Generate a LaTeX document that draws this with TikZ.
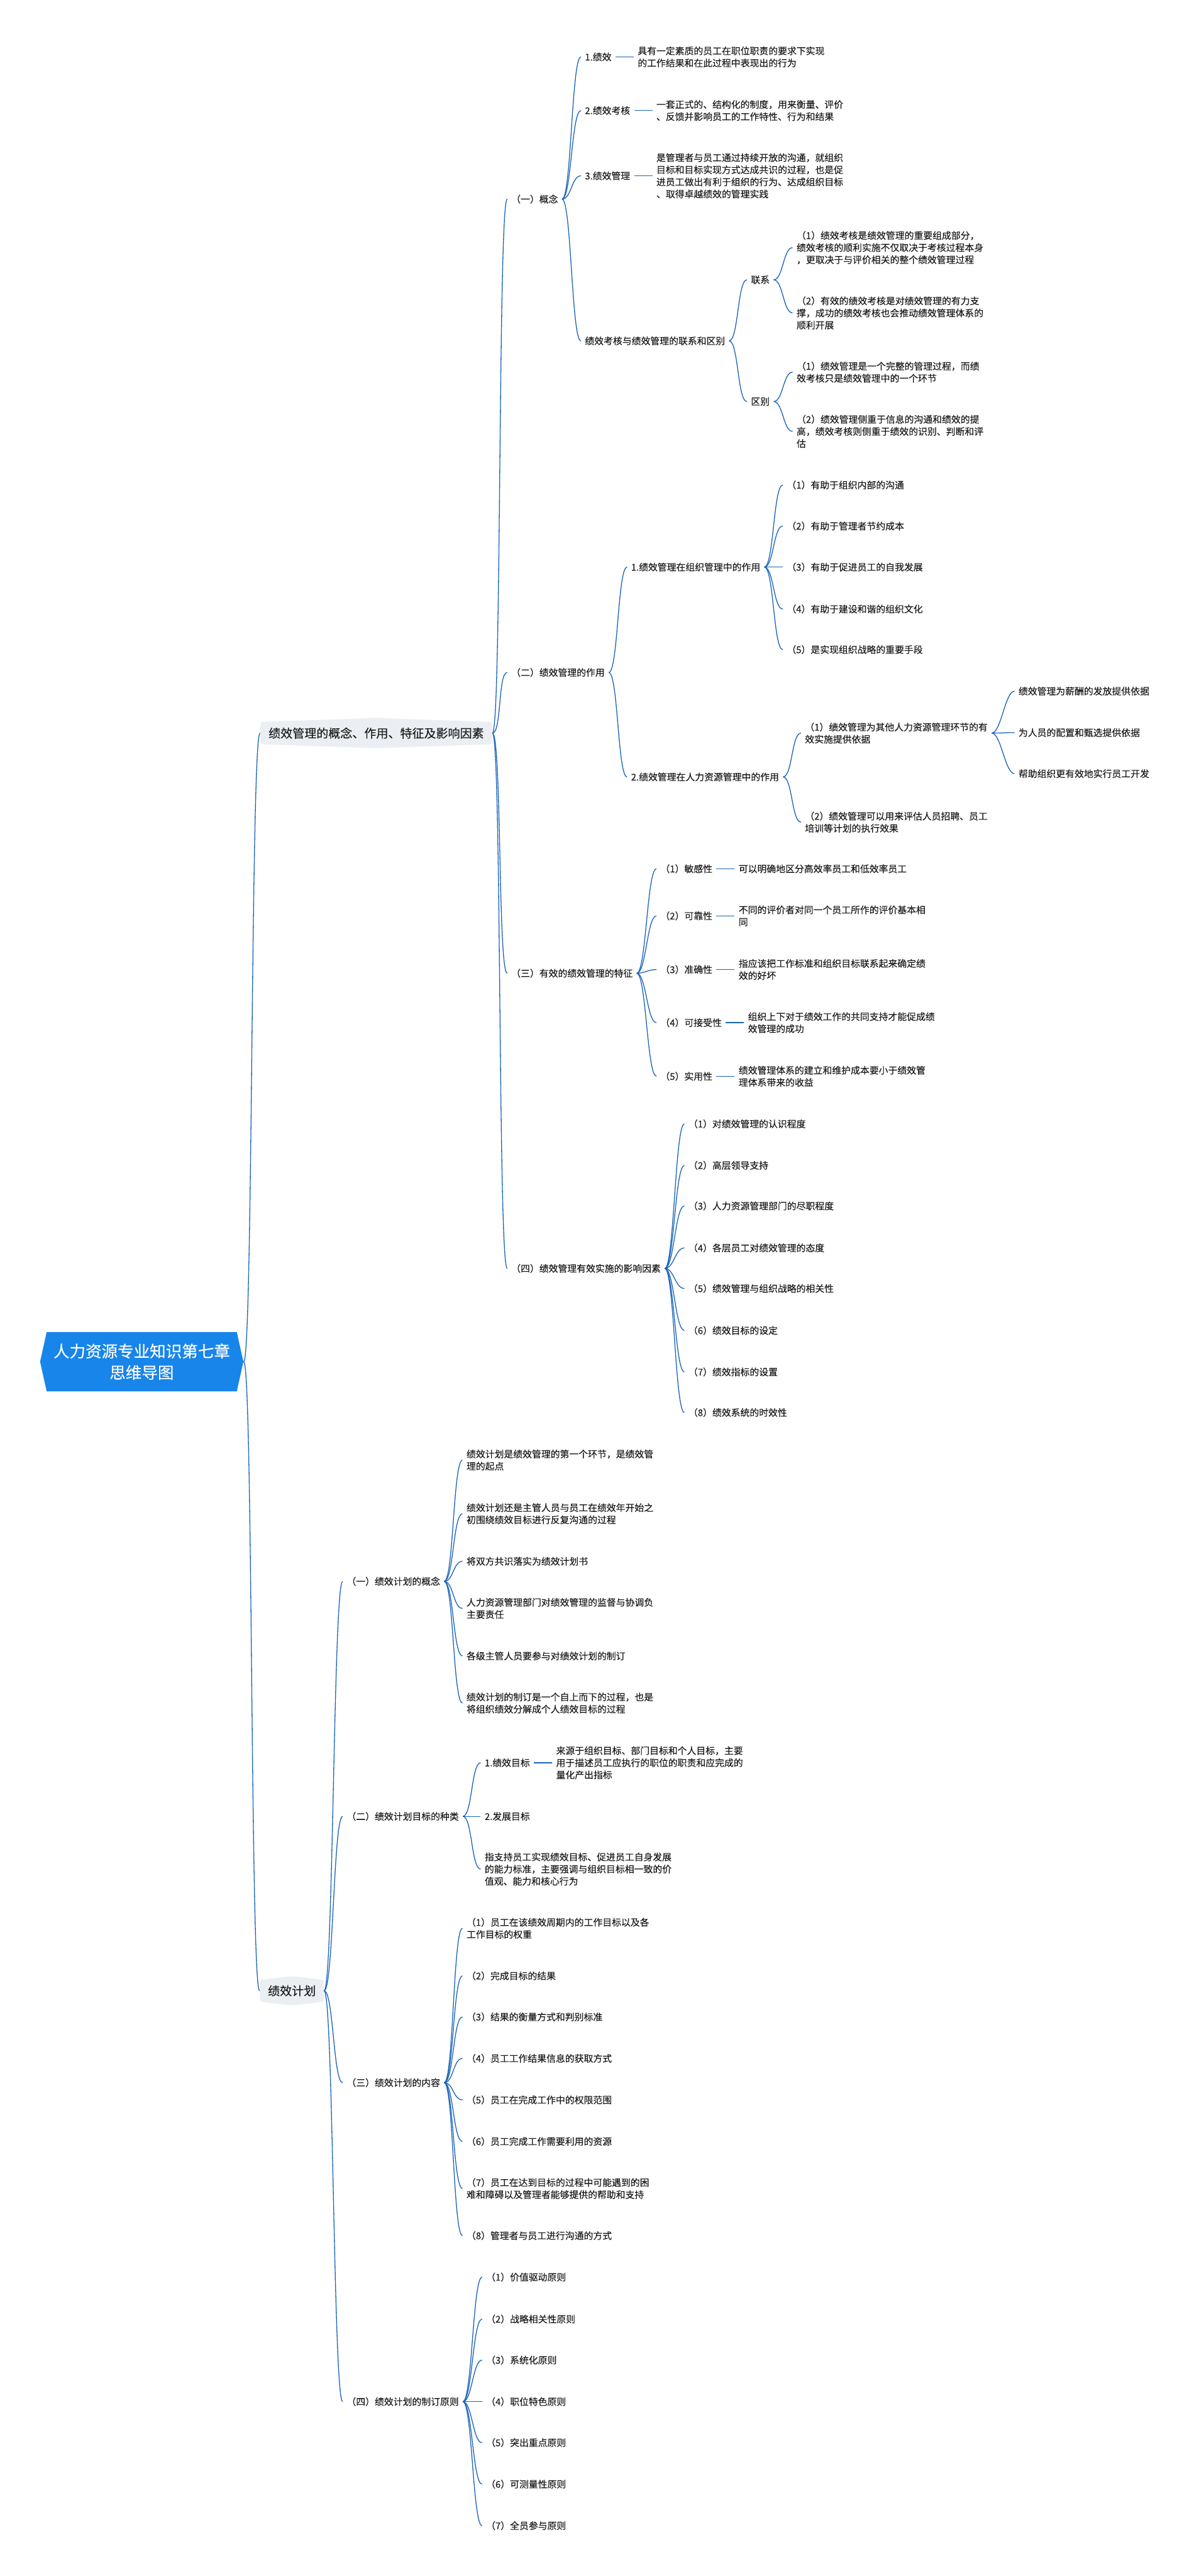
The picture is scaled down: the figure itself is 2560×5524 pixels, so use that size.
\documentclass[tikz,border=0pt]{standalone}
\usepackage{fontspec}
\setmainfont{Noto Sans CJK SC}[FakeBold=0.2]
\usepackage{tikz}
\usetikzlibrary{shapes.symbols, positioning}
\definecolor{cRoot}{RGB}{24,133,234}
\definecolor{cMain}{RGB}{235,239,243}
\definecolor{cLink}{RGB}{25,100,185}
\definecolor{cText}{RGB}{28,28,28}
\tikzset{
  basebox/.style={inner xsep=0.8mm, inner ysep=0.4mm, align=left,
                  text=cText, anchor=west},
  leafnode/.style={basebox, font=\fontsize{5.7}{7.4}\selectfont},
  mainnode/.style={shape=signal, signal to=north and south, fill=cMain,
                   rounded corners=0.5mm, text=cText, minimum height=5.8mm,
                   font=\fontsize{7.3}{9}\selectfont},
  rootnode/.style={shape=signal, signal to=east and west,
                   signal pointer angle=155, fill=cRoot, text=white,
                   align=center, minimum width=43.6mm, minimum height=12.7mm,
                   font=\fontsize{9.8}{13}\selectfont},
  link/.style={draw=cLink, line width=0.5pt, out=0, in=180, max distance=2mm}
}

\begin{document}
\begin{tikzpicture}[x=0.1mm, y=-0.1mm]

  \useasboundingbox[fill=white] (0,0) rectangle (2560,5524);

  % Root and the two main branches
  \node[rootnode] (root) at (304,2920) {人力资源专业知识第七章\\思维导图};

  \node[mainnode, minimum width=49.7mm, signal pointer angle=176] (perf) at (807,1572)
      {绩效管理的概念、作用、特征及影响因素};
  \node[mainnode, minimum width=13.7mm, signal pointer angle=167] (plan) at (626,4269)
      {绩效计划};

  \draw[link] (root.east) to (perf.west);
  \draw[link] (root.east) to (plan.west);

  % ---------------- 绩效管理的概念、作用、特征及影响因素
  \node[leafnode] (c1) at (1088,427)  {（一）概念};
  \node[leafnode] (c2) at (1088,1442) {（二）绩效管理的作用};
  \node[leafnode] (c3) at (1088,2087) {（三）有效的绩效管理的特征};
  \node[leafnode] (c4) at (1088,2720) {（四）绩效管理有效实施的影响因素};
  \draw[link] (perf.east) to (c1.west);
  \draw[link] (perf.east) to (c2.west);
  \draw[link] (perf.east) to (c3.west);
  \draw[link] (perf.east) to (c4.west);

  % (一) 概念
  \node[leafnode] (c1a) at (1246,122) {1.绩效};
  \node[leafnode, right=3.9mm of c1a] (c1at)
      {具有一定素质的员工在职位职责的要求下实现\\的工作结果和在此过程中表现出的行为};
  \node[leafnode] (c1b) at (1246,237) {2.绩效考核};
  \node[leafnode, right=3.9mm of c1b] (c1bt)
      {一套正式的、结构化的制度，用来衡量、评价\\、反馈并影响员工的工作特性、行为和结果};
  \node[leafnode] (c1c) at (1246,377) {3.绩效管理};
  \node[leafnode, right=3.9mm of c1c] (c1ct)
      {是管理者与员工通过持续开放的沟通，就组织\\目标和目标实现方式达成共识的过程，也是促\\进员工做出有利于组织的行为、达成组织目标\\、取得卓越绩效的管理实践};
  \node[leafnode] (c1d) at (1246,731) {绩效考核与绩效管理的联系和区别};
  \draw[link] (c1.east) to (c1a.west);
  \draw[link] (c1.east) to (c1b.west);
  \draw[link] (c1.east) to (c1c.west);
  \draw[link] (c1.east) to (c1d.west);
  \draw[link] (c1a.east) -- (c1at.west);
  \draw[link] (c1b.east) -- (c1bt.west);
  \draw[link] (c1c.east) -- (c1ct.west);

  \node[leafnode] (lianxi) at (1602,600) {联系};
  \node[leafnode] (qubie)  at (1602,861) {区别};
  \draw[link] (c1d.east) to (lianxi.west);
  \draw[link] (c1d.east) to (qubie.west);
  \node[leafnode] (lx1) at (1700,531)
      {（1）绩效考核是绩效管理的重要组成部分，\\绩效考核的顺利实施不仅取决于考核过程本身\\，更取决于与评价相关的整个绩效管理过程};
  \node[leafnode] (lx2) at (1700,671)
      {（2）有效的绩效考核是对绩效管理的有力支\\撑，成功的绩效考核也会推动绩效管理体系的\\顺利开展};
  \node[leafnode] (qb1) at (1700,798)
      {（1）绩效管理是一个完整的管理过程，而绩\\效考核只是绩效管理中的一个环节};
  \node[leafnode] (qb2) at (1700,925)
      {（2）绩效管理侧重于信息的沟通和绩效的提\\高，绩效考核则侧重于绩效的识别、判断和评\\估};
  \draw[link] (lianxi.east) to (lx1.west);
  \draw[link] (lianxi.east) to (lx2.west);
  \draw[link] (qubie.east) to (qb1.west);
  \draw[link] (qubie.east) to (qb2.west);

  % (二) 绩效管理的作用
  \node[leafnode] (c2a) at (1345,1216) {1.绩效管理在组织管理中的作用};
  \node[leafnode] (c2b) at (1345,1666) {2.绩效管理在人力资源管理中的作用};
  \draw[link] (c2.east) to (c2a.west);
  \draw[link] (c2.east) to (c2b.west);

  \node[leafnode] (c2a1) at (1679,1040) {（1）有助于组织内部的沟通};
  \node[leafnode] (c2a2) at (1679,1128) {（2）有助于管理者节约成本};
  \node[leafnode] (c2a3) at (1679,1216) {（3）有助于促进员工的自我发展};
  \node[leafnode] (c2a4) at (1679,1306) {（4）有助于建设和谐的组织文化};
  \node[leafnode] (c2a5) at (1679,1393) {（5）是实现组织战略的重要手段};
  \draw[link] (c2a.east) to (c2a1.west);
  \draw[link] (c2a.east) to (c2a2.west);
  \draw[link] (c2a.east) to (c2a3.west);
  \draw[link] (c2a.east) to (c2a4.west);
  \draw[link] (c2a.east) to (c2a5.west);

  \node[leafnode] (c2b1) at (1718,1572)
      {（1）绩效管理为其他人力资源管理环节的有\\效实施提供依据};
  \node[leafnode] (c2b2) at (1718,1763)
      {（2）绩效管理可以用来评估人员招聘、员工\\培训等计划的执行效果};
  \draw[link] (c2b.east) to (c2b1.west);
  \draw[link] (c2b.east) to (c2b2.west);

  \node[leafnode] (c2b1a) at (2176,1482) {绩效管理为薪酬的发放提供依据};
  \node[leafnode] (c2b1b) at (2176,1571) {为人员的配置和甄选提供依据};
  \node[leafnode] (c2b1c) at (2176,1659) {帮助组织更有效地实行员工开发};
  \draw[link] (c2b1.east) to (c2b1a.west);
  \draw[link] (c2b1.east) to (c2b1b.west);
  \draw[link] (c2b1.east) to (c2b1c.west);

  % (三) 有效的绩效管理的特征
  \node[leafnode] (c3a) at (1408,1863) {（1）敏感性};
  \node[leafnode, right=3.9mm of c3a] (c3at) {可以明确地区分高效率员工和低效率员工};
  \node[leafnode] (c3b) at (1408,1964) {（2）可靠性};
  \node[leafnode, right=3.9mm of c3b] (c3bt) {不同的评价者对同一个员工所作的评价基本相\\同};
  \node[leafnode] (c3c) at (1408,2079) {（3）准确性};
  \node[leafnode, right=3.9mm of c3c] (c3ct) {指应该把工作标准和组织目标联系起来确定绩\\效的好坏};
  \node[leafnode] (c3d) at (1408,2193) {（4）可接受性};
  \node[leafnode, right=3.9mm of c3d] (c3dt) {组织上下对于绩效工作的共同支持才能促成绩\\效管理的成功};
  \node[leafnode] (c3e) at (1408,2308) {（5）实用性};
  \node[leafnode, right=3.9mm of c3e] (c3et) {绩效管理体系的建立和维护成本要小于绩效管\\理体系带来的收益};
  \draw[link] (c3.east) to (c3a.west);
  \draw[link] (c3.east) to (c3b.west);
  \draw[link] (c3.east) to (c3c.west);
  \draw[link] (c3.east) to (c3d.west);
  \draw[link] (c3.east) to (c3e.west);
  \draw[link] (c3a.east) -- (c3at.west);
  \draw[link] (c3b.east) -- (c3bt.west);
  \draw[link] (c3c.east) -- (c3ct.west);
  \draw[link] (c3d.east) -- (c3dt.west);
  \draw[link] (c3e.east) -- (c3et.west);

  % (四) 绩效管理有效实施的影响因素
  \node[leafnode] (c4a) at (1468,2410) {（1）对绩效管理的认识程度};
  \node[leafnode] (c4b) at (1468,2499) {（2）高层领导支持};
  \node[leafnode] (c4c) at (1468,2586) {（3）人力资源管理部门的尽职程度};
  \node[leafnode] (c4d) at (1468,2676) {（4）各层员工对绩效管理的态度};
  \node[leafnode] (c4e) at (1468,2763) {（5）绩效管理与组织战略的相关性};
  \node[leafnode] (c4f) at (1468,2853) {（6）绩效目标的设定};
  \node[leafnode] (c4g) at (1468,2942) {（7）绩效指标的设置};
  \node[leafnode] (c4h) at (1468,3029) {（8）绩效系统的时效性};
  \draw[link] (c4.east) to (c4a.west);
  \draw[link] (c4.east) to (c4b.west);
  \draw[link] (c4.east) to (c4c.west);
  \draw[link] (c4.east) to (c4d.west);
  \draw[link] (c4.east) to (c4e.west);
  \draw[link] (c4.east) to (c4f.west);
  \draw[link] (c4.east) to (c4g.west);
  \draw[link] (c4.east) to (c4h.west);

  % ---------------- 绩效计划
  \node[leafnode] (p1) at (735,3391) {（一）绩效计划的概念};
  \node[leafnode] (p2) at (735,3895) {（二）绩效计划目标的种类};
  \node[leafnode] (p3) at (735,4466) {（三）绩效计划的内容};
  \node[leafnode] (p4) at (735,5150) {（四）绩效计划的制订原则};
  \draw[link] (plan.east) to (p1.west);
  \draw[link] (plan.east) to (p2.west);
  \draw[link] (plan.east) to (p3.west);
  \draw[link] (plan.east) to (p4.west);

  % (一) 绩效计划的概念
  \node[leafnode] (p1a) at (992,3131) {绩效计划是绩效管理的第一个环节，是绩效管\\理的起点};
  \node[leafnode] (p1b) at (992,3246) {绩效计划还是主管人员与员工在绩效年开始之\\初围绕绩效目标进行反复沟通的过程};
  \node[leafnode] (p1c) at (992,3348) {将双方共识落实为绩效计划书};
  \node[leafnode] (p1d) at (992,3449) {人力资源管理部门对绩效管理的监督与协调负\\主要责任};
  \node[leafnode] (p1e) at (992,3551) {各级主管人员要参与对绩效计划的制订};
  \node[leafnode] (p1f) at (992,3652) {绩效计划的制订是一个自上而下的过程，也是\\将组织绩效分解成个人绩效目标的过程};
  \draw[link] (p1.east) to (p1a.west);
  \draw[link] (p1.east) to (p1b.west);
  \draw[link] (p1.east) to (p1c.west);
  \draw[link] (p1.east) to (p1d.west);
  \draw[link] (p1.east) to (p1e.west);
  \draw[link] (p1.east) to (p1f.west);

  % (二) 绩效计划目标的种类
  \node[leafnode] (p2a) at (1031,3780) {1.绩效目标};
  \node[leafnode, right=3.9mm of p2a] (p2at)
      {来源于组织目标、部门目标和个人目标，主要\\用于描述员工应执行的职位的职责和应完成的\\量化产出指标};
  \node[leafnode] (p2b) at (1031,3895) {2.发展目标};
  \node[leafnode] (p2c) at (1031,4008)
      {指支持员工实现绩效目标、促进员工自身发展\\的能力标准，主要强调与组织目标相一致的价\\值观、能力和核心行为};
  \draw[link] (p2.east) to (p2a.west);
  \draw[link] (p2.east) to (p2b.west);
  \draw[link] (p2.east) to (p2c.west);
  \draw[link] (p2a.east) -- (p2at.west);

  % (三) 绩效计划的内容
  \node[leafnode] (p3a) at (992,4135) {（1）员工在该绩效周期内的工作目标以及各\\工作目标的权重};
  \node[leafnode] (p3b) at (992,4237) {（2）完成目标的结果};
  \node[leafnode] (p3c) at (992,4325) {（3）结果的衡量方式和判别标准};
  \node[leafnode] (p3d) at (992,4414) {（4）员工工作结果信息的获取方式};
  \node[leafnode] (p3e) at (992,4503) {（5）员工在完成工作中的权限范围};
  \node[leafnode] (p3f) at (992,4592) {（6）员工完成工作需要利用的资源};
  \node[leafnode] (p3g) at (992,4693) {（7）员工在达到目标的过程中可能遇到的困\\难和障碍以及管理者能够提供的帮助和支持};
  \node[leafnode] (p3h) at (992,4794) {（8）管理者与员工进行沟通的方式};
  \draw[link] (p3.east) to (p3a.west);
  \draw[link] (p3.east) to (p3b.west);
  \draw[link] (p3.east) to (p3c.west);
  \draw[link] (p3.east) to (p3d.west);
  \draw[link] (p3.east) to (p3e.west);
  \draw[link] (p3.east) to (p3f.west);
  \draw[link] (p3.east) to (p3g.west);
  \draw[link] (p3.east) to (p3h.west);

  % (四) 绩效计划的制订原则
  \node[leafnode] (p4a) at (1034,4883) {（1）价值驱动原则};
  \node[leafnode] (p4b) at (1034,4973) {（2）战略相关性原则};
  \node[leafnode] (p4c) at (1034,5061) {（3）系统化原则};
  \node[leafnode] (p4d) at (1034,5150) {（4）职位特色原则};
  \node[leafnode] (p4e) at (1034,5238) {（5）突出重点原则};
  \node[leafnode] (p4f) at (1034,5327) {（6）可测量性原则};
  \node[leafnode] (p4g) at (1034,5416) {（7）全员参与原则};
  \draw[link] (p4.east) to (p4a.west);
  \draw[link] (p4.east) to (p4b.west);
  \draw[link] (p4.east) to (p4c.west);
  \draw[link] (p4.east) to (p4d.west);
  \draw[link] (p4.east) to (p4e.west);
  \draw[link] (p4.east) to (p4f.west);
  \draw[link] (p4.east) to (p4g.west);

\end{tikzpicture}
\end{document}
